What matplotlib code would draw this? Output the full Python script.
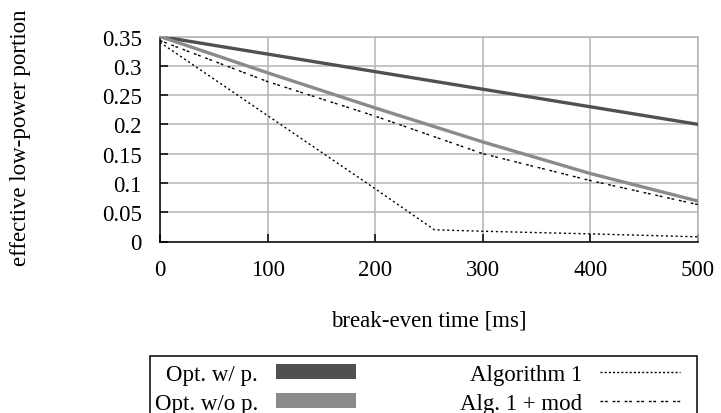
import matplotlib
matplotlib.use("Agg")
import matplotlib.pyplot as plt
from matplotlib.patches import Patch, Rectangle
from matplotlib.lines import Line2D

plt.rcParams['font.family'] = ['Liberation Serif', 'DejaVu Serif']
plt.rcParams['font.size'] = 16.5

# ---- data ----
x_opt = [0, 100, 200, 300, 400, 500]
opt_wp = [0.35, 0.32, 0.29, 0.26, 0.23, 0.20]
opt_wop = [0.35, 0.288, 0.228, 0.170, 0.116, 0.069]

x_alg1 = [0, 100, 200, 255, 300, 400, 500]
alg1 = [0.340, 0.215, 0.090, 0.020, 0.0175, 0.013, 0.008]

x_mod = [0, 100, 200, 300, 400, 500]
alg1_mod = [0.343, 0.273, 0.214, 0.150, 0.104, 0.063]

x_ticks = [0, 100, 200, 300, 400, 500]
y_ticks = [0, 0.05, 0.1, 0.15, 0.2, 0.25, 0.3, 0.35]
y_ticklabels = ['0', '0.05', '0.1', '0.15', '0.2', '0.25', '0.3', '0.35']

labels = ['Opt. w/ p.', 'Opt. w/o p.', 'Algorithm 1', 'Alg. 1 + mod']
c_wp = '#505050'
c_wop = '#8a8a8a'
grid_c = '#b4b4b4'

W, H = 721, 414
fig = plt.figure(figsize=(W / 100, H / 100), dpi=100)
ax = fig.add_axes([160 / W, 1 - 242.5 / H, 538 / W, 205 / H])

ax.plot(x_opt, opt_wp, color=c_wp, lw=2.4, zorder=3, solid_capstyle='butt')
ax.plot(x_opt, opt_wop, color=c_wop, lw=2.4, zorder=3, solid_capstyle='butt')
ax.plot(x_alg1, alg1, color='black', lw=1.0, ls=(0, (1.5, 2.0)), zorder=4)
ax.plot(x_mod, alg1_mod, color='black', lw=1.0, ls=(0, (2.0, 1.2, 2.0, 3.5)), zorder=4)

ax.set_xlim(0, 500)
ax.set_ylim(0, 0.35)
ax.set_xticks(x_ticks)
ax.set_xticklabels([str(v) for v in x_ticks])
ax.set_yticks(y_ticks)
ax.set_yticklabels(y_ticklabels)
ax.grid(True, color=grid_c, lw=1.1, zorder=0)
ax.set_axisbelow(True)

ax.tick_params(axis='both', direction='in', length=6, width=1.1, color='black',
               labelsize=16.5)
ax.tick_params(axis='x', pad=12.7)
ax.tick_params(axis='y', pad=13)

for s in ['left', 'bottom']:
    ax.spines[s].set_color('black')
    ax.spines[s].set_linewidth(1.1)
for s in ['top', 'right']:
    ax.spines[s].set_color(grid_c)
    ax.spines[s].set_linewidth(1.1)

ax.set_xlabel('break-even time [ms]', fontsize=16.5)
ax.xaxis.set_label_coords(0.5, -0.33)
ax.set_ylabel('effective low-power portion', fontsize=16.5)
ax.yaxis.set_label_coords(-0.24, 0.51)

handles = [
    Patch(facecolor=c_wp, edgecolor='none'),
    Patch(facecolor=c_wop, edgecolor='none'),
    Line2D([], [], color='black', lw=1.0, ls=(0, (1.5, 1.5))),
    Line2D([], [], color='black', lw=1.0, ls=(0, (2.0, 1.2, 2.0, 3.5))),
]
leg = fig.legend(handles, labels, ncol=2, markerfirst=False,
                 loc='upper left', bbox_to_anchor=(155 / W, 1 - 364.7 / H),
                 borderaxespad=0, borderpad=0, fontsize=16.5,
                 handlelength=3.5, handleheight=0.65, handletextpad=0.78,
                 columnspacing=4.52, labelspacing=0.35, frameon=False)

# legend box outline (extends below the figure edge, as in the reference)
fig.patches.append(Rectangle((150 / W, -30 / H), (697 - 150) / W, (414 + 30 - 357) / H,
                             transform=fig.transFigure, fill=False,
                             edgecolor='black', lw=1.1, zorder=5))

fig.savefig('out.png', dpi=100)
